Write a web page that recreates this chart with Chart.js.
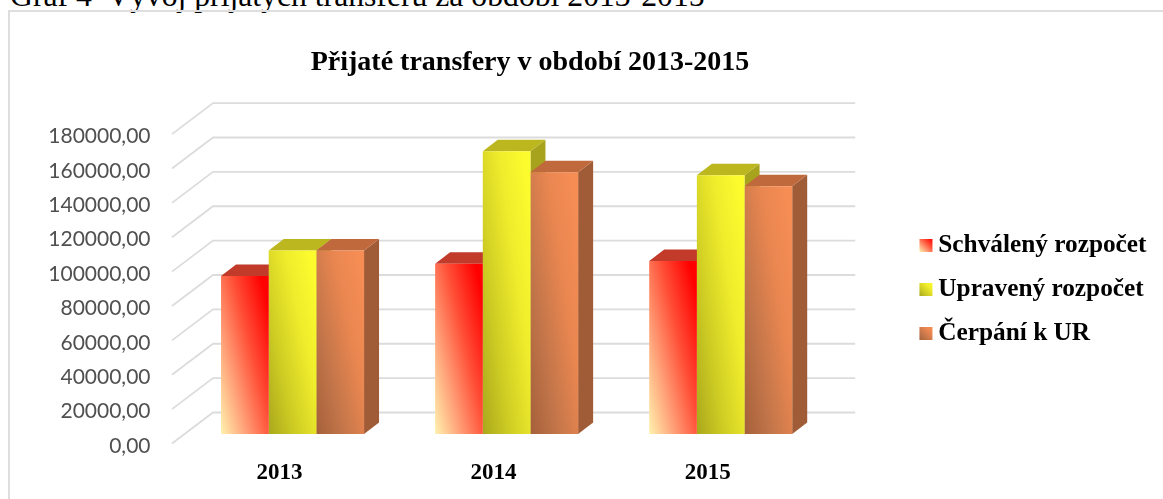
<!DOCTYPE html>
<html><head><meta charset="utf-8">
<style>
html,body{margin:0;padding:0;background:#fff;overflow:hidden}
#cap{position:absolute;left:10px;top:-22px;font:31.7px "Liberation Serif";color:#000;white-space:pre}
#frame{position:absolute;left:8px;top:10px;width:1170px;height:510px;border:2px solid #dedede;box-sizing:border-box}
#wrap{position:absolute;left:0;top:0;width:1163px;height:499px}
</style>
<script src="https://cdn.jsdelivr.net/npm/chart.js@4"></script>
</head><body>
<div id="cap">Graf 4  Vývoj přijatých transferů za období 2013-2015</div>
<div id="frame"></div>
<div id="wrap"><canvas id="c" width="1163" height="499"></canvas></div>
<script>
const categories=["2013","2014","2015"];
const schvaleny=[91900,99100,100600];
const upraveny=[106700,164500,150600];
const cerpani=[106700,152300,144200];
const seriesNames=["Schválený rozpočet","Upravený rozpočet","Čerpání k UR"];
const chartTitle="Přijaté transfery v období 2013-2015";
const palettes=[
 {stops:[[0,"#fff2ae"],[0.3,"#ffa57c"],[0.65,"#ff4d35"],[1,"#ff0000"]],top:"#c13a2a",side:"#a8261a",solid:"#ff3a2a"},
 {stops:[[0,"#a9a81c"],[0.35,"#cfcd24"],[0.7,"#efec2c"],[1,"#fbfb2e"]],top:"#bcb71f",side:"#a8a31d",solid:"#efec2c"},
 {stops:[[0,"#a5603a"],[0.35,"#c4764a"],[0.7,"#e98650"],[1,"#f58d55"]],top:"#c0693c",side:"#a05c36",solid:"#e98650"}
];
const DX=15,DY=11.5;
const TITLE_SHIFT=-11.75,LEGEND_SHIFT=73,LEGEND_DY=40;
function grad(ctx,i){
 const ch=ctx.chart,p=palettes[i];
 if(!ch.chartArea||ctx.type!=="data")return p.solid;
 const ys=ch.scales.y,xs=ch.scales.x;
 const base=ys.getPixelForValue(0),top=ys.getPixelForValue(ctx.raw);
 const catW=xs.width/categories.length,w=catW*0.668/3;
 const x0=xs.getPixelForValue(ctx.dataIndex)+(i-1.5)*w;
 const u=0.6/w,v=0.5/(base-top),n=u*u+v*v;
 const g=ch.ctx.createLinearGradient(x0,base,x0+u/n,base-v/n);
 p.stops.forEach(s=>g.addColorStop(s[0],s[1]));
 return g;
}
const depth3d={
 id:"depth3d",
 afterLayout(chart){
  chart.titleBlock.left+=TITLE_SHIFT;chart.titleBlock.right+=TITLE_SHIFT;
  const l=chart.legend;
  l.left+=LEGEND_SHIFT;l.right+=LEGEND_SHIFT;l.top+=LEGEND_DY;l.bottom+=LEGEND_DY;
 },
 beforeDatasetsDraw(chart){
  const c=chart.ctx,ys=chart.scales.y,a=chart.chartArea;
  c.save();c.strokeStyle="#dcdcdc";c.lineWidth=1.8;
  ys.ticks.forEach(t=>{
   const y=ys.getPixelForValue(t.value);
   c.beginPath();
   c.moveTo(a.left-13.5,y+9.5);c.lineTo(a.left+27.5,y-21.5);c.lineTo(a.right+27.5,y-21.5);
   c.stroke();
  });
  chart.data.datasets.forEach((d,i)=>{
   const p=palettes[i];
   chart.getDatasetMeta(i).data.forEach(b=>{
    const L=b.x-b.width/2,R=b.x+b.width/2,T=b.y,B=b.base;
    c.fillStyle=p.side;c.beginPath();
    c.moveTo(R,T);c.lineTo(R+DX,T-DY);c.lineTo(R+DX,B-DY);c.lineTo(R,B);c.closePath();c.fill();
    c.fillStyle=p.top;c.beginPath();
    c.moveTo(L,T);c.lineTo(L+DX,T-DY);c.lineTo(R+DX,T-DY);c.lineTo(R,T);c.closePath();c.fill();
   });
  });
  c.restore();
 },
 afterDraw(chart){
  const c=chart.ctx,l=chart.legend,pad=l.options.labels.padding;
  const fs=l.options.labels.font.size,rowH=fs+pad;
  const total=rowH*seriesNames.length;
  const y0=(l.top+pad+l.bottom-total)/2;
  seriesNames.forEach((n,i)=>{
   const x=l.left+pad,y=y0+i*rowH+(fs-13)/2;
   const g=c.createLinearGradient(x,y+13,x+13,y);
   palettes[i].stops.forEach(s=>g.addColorStop(s[0],s[1]));
   c.fillStyle=g;c.fillRect(x,y,13,13);
  });
 }
};
const series=[schvaleny,upraveny,cerpani];
new Chart(document.getElementById("c"),{
 type:"bar",
 plugins:[depth3d],
 data:{labels:categories,datasets:series.map((v,i)=>({
  label:seriesNames[i],data:v,
  backgroundColor:ctx=>grad(ctx,i),
  borderWidth:0,categoryPercentage:0.668,barPercentage:1
 }))},
 options:{
  responsive:false,animation:false,
  layout:{padding:{left:0,right:79.5,top:0,bottom:0}},
  plugins:{
   tooltip:{enabled:false},
   title:{display:true,text:chartTitle,color:"#000",font:{family:"Liberation Serif",size:28,weight:"bold"},padding:{top:46,bottom:45}},
   legend:{position:"right",labels:{
     color:"#000",font:{family:"Liberation Serif",size:25.3,weight:"bold"},boxWidth:6.2,boxHeight:13,padding:18.7,
     generateLabels:ch=>seriesNames.map((n,i)=>({text:n,fillStyle:"transparent",strokeStyle:"transparent",lineWidth:0,datasetIndex:i}))
   }}
  },
  scales:{
   x:{grid:{display:false},border:{display:false},
      afterFit:s=>{s.height=65;},
      ticks:{color:"#000",labelOffset:-13,padding:17,maxRotation:0,font:{family:"Liberation Serif",size:23,weight:"bold"}}},
   y:{min:0,max:180000,grid:{display:false},border:{display:false},
      afterFit:s=>{s.width=185.5;},
      ticks:{stepSize:20000,color:"#505050",labelOffset:12,padding:27,font:{family:"Lato",size:21},
       callback:v=>Number(v).toFixed(2).replace(".",",")}}
  }
 }
});
</script>
</body></html>
